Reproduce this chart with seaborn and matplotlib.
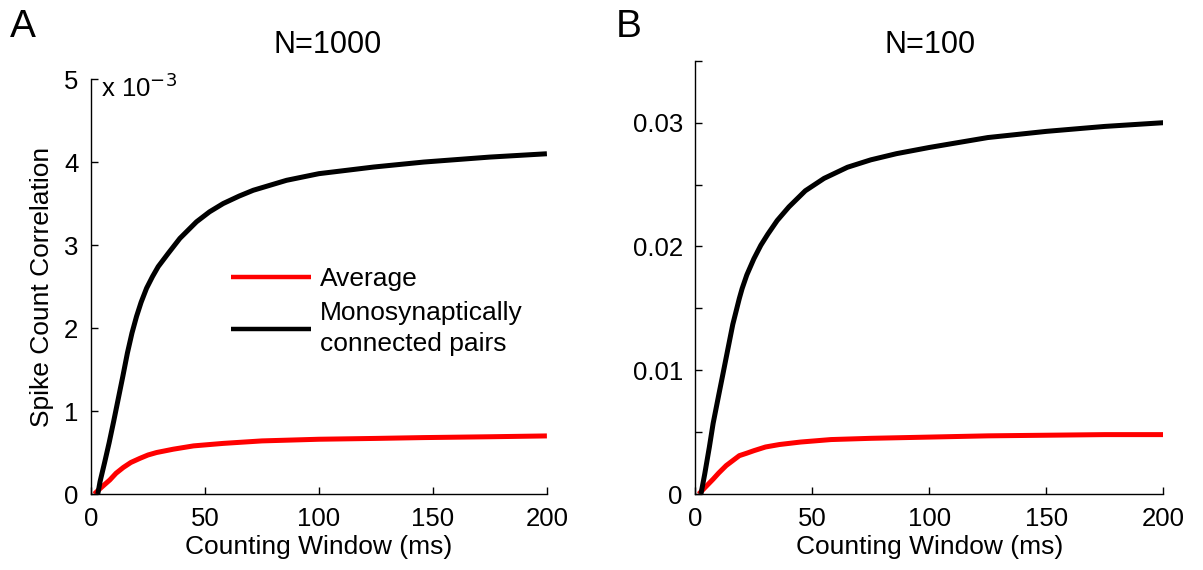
import numpy as np
import pandas as pd
import matplotlib
matplotlib.use("Agg")
import matplotlib.pyplot as plt
import seaborn as sns

# panel A, N=1000 (values in units of 1e-3)
a_avg_t = [1.5, 3.0, 5.0, 8.3, 11.0, 14.2, 17.5, 21.5, 25.0, 28.8, 36.1, 45.0, 58.0, 75.0, 100.0, 125.0, 146.0, 175.0, 200.0]
a_avg_y = [0.0, 0.04, 0.09, 0.17, 0.25, 0.32, 0.38, 0.43, 0.47, 0.50, 0.54, 0.58, 0.61, 0.64, 0.66, 0.67, 0.68, 0.69, 0.70]
a_mono_t = [3.0, 4.0, 6.0, 8.0, 10.0, 12.0, 14.0, 16.0, 18.0, 20.0, 22.0, 24.4, 27.0, 29.5, 33.9, 39.0, 46.3, 52.0, 58.0, 65.0, 71.2, 85.8, 100.0, 124.0, 146.0, 175.0, 200.0]
a_mono_y = [0.0, 0.15, 0.38, 0.62, 0.88, 1.15, 1.42, 1.70, 1.94, 2.14, 2.31, 2.48, 2.62, 2.74, 2.90, 3.08, 3.28, 3.40, 3.50, 3.59, 3.66, 3.78, 3.86, 3.94, 4.00, 4.06, 4.10]

# panel B, N=100
b_avg_t = [1.5, 4.0, 7.6, 10.0, 13.2, 16.0, 18.8, 22.0, 25.0, 30.0, 36.0, 45.0, 58.0, 75.0, 100.0, 125.0, 150.0, 175.0, 200.0]
b_avg_y = [0.0, 0.0005, 0.0012, 0.0017, 0.0023, 0.0027, 0.0031, 0.0033, 0.0035, 0.0038, 0.0040, 0.0042, 0.0044, 0.0045, 0.0046, 0.0047, 0.00475, 0.0048, 0.0048]
b_mono_t = [2.4, 4.0, 6.0, 7.6, 10.0, 11.8, 14.0, 16.0, 18.8, 20.0, 22.0, 25.0, 28.0, 31.0, 35.0, 40.0, 47.0, 55.0, 65.0, 75.0, 86.0, 100.0, 125.0, 150.0, 175.0, 200.0]
b_mono_y = [0.0, 0.0016, 0.0038, 0.0057, 0.0080, 0.0097, 0.0118, 0.0137, 0.0158, 0.0166, 0.0177, 0.0190, 0.0201, 0.0210, 0.0221, 0.0232, 0.0245, 0.0255, 0.0264, 0.0270, 0.0275, 0.0280, 0.0288, 0.0293, 0.0297, 0.0300]

labels = ["Average", "Monosynaptically\nconnected pairs"]


def long_form(avg_t, avg_y, mono_t, mono_y):
    d1 = pd.DataFrame({"t": avg_t, "y": avg_y, "kind": labels[0]})
    d2 = pd.DataFrame({"t": mono_t, "y": mono_y, "kind": labels[1]})
    return pd.concat([d1, d2], ignore_index=True)


sns.set_style("ticks")
plt.rcParams["font.family"] = ["Liberation Sans", "DejaVu Sans"]
plt.rcParams["text.color"] = "black"
plt.rcParams["axes.labelcolor"] = "black"
plt.rcParams["xtick.color"] = "black"
plt.rcParams["ytick.color"] = "black"
plt.rcParams["axes.edgecolor"] = "black"
plt.rcParams["xtick.direction"] = "in"
plt.rcParams["ytick.direction"] = "in"
plt.rcParams["axes.linewidth"] = 1.0
plt.rcParams["lines.solid_joinstyle"] = "round"
plt.rcParams["lines.solid_capstyle"] = "butt"

palette = {labels[0]: "#ff0000", labels[1]: "#000000"}
lw = 3.6

fig = plt.figure(figsize=(12.03, 5.70), dpi=100)
axA = fig.add_axes([0.0756, 0.1333, 0.379, 0.728])
axB = fig.add_axes([0.578, 0.1333, 0.389, 0.760])

dA = long_form(a_avg_t, a_avg_y, a_mono_t, a_mono_y)
dB = long_form(b_avg_t, b_avg_y, b_mono_t, b_mono_y)

sns.lineplot(data=dA, x="t", y="y", hue="kind", palette=palette, linewidth=lw,
             ax=axA, sort=True, estimator=None)
sns.lineplot(data=dB, x="t", y="y", hue="kind", palette=palette, linewidth=lw,
             ax=axB, sort=True, estimator=None, legend=False)

for ax in (axA, axB):
    sns.despine(ax=ax)
    ax.set_xlim(0, 200)
    ax.set_xticks([0, 50, 100, 150, 200])
    ax.tick_params(labelsize=18.5, length=5, width=1, pad=9)
    ax.set_xlabel("Counting Window (ms)", fontsize=19, labelpad=3)
    ax.set_ylabel("")

axA.set_ylim(0, 5)
axA.set_yticks([0, 1, 2, 3, 4, 5])
axA.set_ylabel("Spike Count Correlation", fontsize=19, labelpad=7)
axA.text(0.022, 0.98, r"x 10$^{-3}$", transform=axA.transAxes, fontsize=18.5,
         va="center", ha="left")

axB.set_ylim(0, 0.035)
axB.set_yticks([0, 0.005, 0.01, 0.015, 0.02, 0.025, 0.03, 0.035])
axB.set_yticklabels(["0", "", "0.01", "", "0.02", "", "0.03", ""])

fig.text(0.272, 0.921, "N=1000", fontsize=22, ha="center", va="center")
fig.text(0.773, 0.921, "N=100", fontsize=22, ha="center", va="center")

leg = axA.legend(frameon=False, loc="center left", bbox_to_anchor=(0.285, 0.44),
                 borderaxespad=0, fontsize=19, handlelength=3.0,
                 handletextpad=0.35, labelspacing=0.4)
for line in leg.get_lines():
    line.set_linewidth(3.2)
for t in leg.get_texts():
    t.set_linespacing(1.35)

fig.text(0.008, 0.953, "A", fontsize=28, va="center", ha="left")
fig.text(0.512, 0.953, "B", fontsize=28, va="center", ha="left")

fig.savefig("out.png", dpi=100)
